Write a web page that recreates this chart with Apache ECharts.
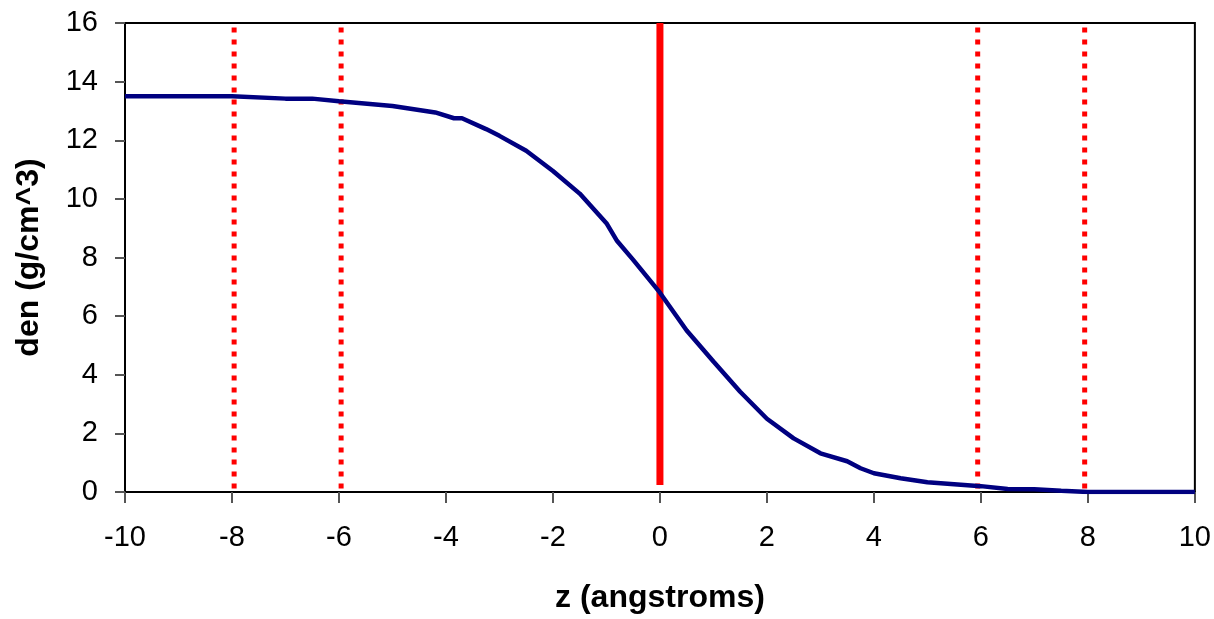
<!DOCTYPE html>
<html><head><meta charset="utf-8">
<script src="https://cdn.jsdelivr.net/npm/echarts@6/dist/echarts.min.js"></script>
<style>html,body{margin:0;padding:0;background:#fff}#c{width:1214px;height:619px}</style>
</head><body><div id="c"></div>
<script>
const zValues = [-10, -9, -8, -7, -6.5, -6, -5, -4.2, -3.85, -3.7, -3.25, -3, -2.5, -2, -1.5, -1, -0.8, -0.5, 0, 0.5, 1, 1.5, 2, 2.5, 3, 3.5, 3.75, 4, 4.5, 5, 6, 6.5, 7, 7.5, 8, 9, 10];
const denValues = [13.5, 13.5, 13.5, 13.42, 13.42, 13.33, 13.17, 12.95, 12.75, 12.75, 12.38, 12.15, 11.64, 10.95, 10.18, 9.17, 8.56, 7.92, 6.8, 5.51, 4.45, 3.42, 2.5, 1.83, 1.32, 1.05, 0.81, 0.64, 0.47, 0.33, 0.2, 0.1, 0.09, 0.04, 0.0, 0.0, 0.0];
const dottedMarkers = [-7.96, -5.96, 5.94, 7.94];
const solidMarker = 0;
const yRange = [0, 16];
const xTicks = [-10, 10, 2];
const yTicks = [0, 16, 2];

const curve = zValues.map((z, i) => [z, denValues[i]]);
const series = [];
dottedMarkers.forEach(x => series.push({
  type: 'line', data: [[x, 0.12], [x, 15.9]], symbol: 'none', z: 2,
  lineStyle: {color: '#ff0000', width: 5, type: [5, 7], cap: 'butt'}
}));
series.push({
  type: 'line', data: [[solidMarker, 0.24], [solidMarker, yRange[1]]], symbol: 'none', z: 2,
  lineStyle: {color: '#ff0000', width: 7}
});
series.push({
  type: 'line', data: curve, symbol: 'none', z: 3,
  lineStyle: {color: '#000080', width: 4.5}
});

const font = 'Liberation Sans, Arial, sans-serif';
const chart = echarts.init(document.getElementById('c'), null, {renderer: 'canvas'});
chart.setOption({
  animation: false,
  backgroundColor: '#fff',
  grid: {left: 125, top: 23, width: 1070, height: 473, show: true, borderColor: '#000', borderWidth: 2, backgroundColor: 'transparent'},
  xAxis: {
    type: 'value', min: xTicks[0], max: xTicks[1], interval: xTicks[2],
    name: 'z (angstroms)', nameLocation: 'middle', nameGap: 90,
    nameTextStyle: {fontFamily: font, fontSize: 32, fontWeight: 'bold', color: '#000'},
    axisLine: {show: true, onZero: false, lineStyle: {color: '#000', width: 2}},
    axisTick: {show: true, length: 11, lineStyle: {color: '#555', width: 2}},
    axisLabel: {fontFamily: font, fontSize: 29, color: '#000', margin: 31},
    splitLine: {show: false}
  },
  yAxis: {
    type: 'value', min: yRange[0], max: yRange[1], interval: yTicks[2],
    name: 'den (g/cm^3)', nameLocation: 'middle', nameGap: 80, nameRotate: 90,
    nameTextStyle: {fontFamily: font, fontSize: 32, fontWeight: 'bold', color: '#000'},
    axisLine: {show: true, onZero: false, lineStyle: {color: '#000', width: 2}},
    axisTick: {show: true, length: 10, lineStyle: {color: '#555', width: 2}},
    axisLabel: {fontFamily: font, fontSize: 29, color: '#000', margin: 27},
    splitLine: {show: false}
  },
  series: series
});
</script></body></html>
